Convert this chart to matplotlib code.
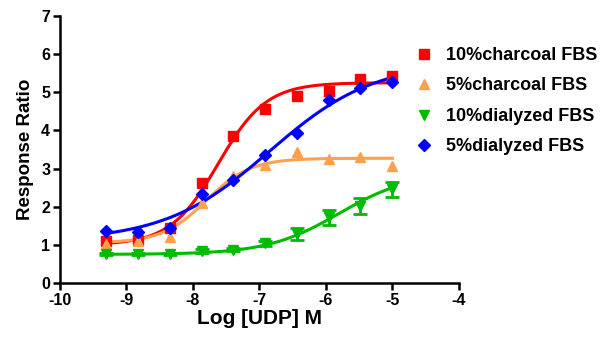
import numpy as np
import matplotlib
matplotlib.use("Agg")
import matplotlib.pyplot as plt

plt.rcParams['font.family'] = ['Liberation Sans', 'DejaVu Sans']
plt.rcParams['font.weight'] = 'bold'
plt.rcParams['axes.unicode_minus'] = False

# log concentration of UDP
log_udp = [-9.3, -8.82, -8.35, -7.87, -7.39, -6.92, -6.44, -5.96, -5.48, -5.0]

charcoal10 = [1.10, 1.14, 1.43, 2.62, 3.85, 4.56, 4.91, 5.04, 5.35, 5.43]
charcoal5 = [1.03, 1.10, 1.21, 2.10, 2.80, 3.09, 3.44, 3.24, 3.30, 3.06]
dialyzed10 = [0.77, 0.76, 0.76, 0.84, 0.87, 1.04, 1.28, 1.72, 2.02, 2.46]
dialyzed10_err = [0.03, 0.03, 0.03, 0.04, 0.04, 0.06, 0.15, 0.20, 0.21, 0.20]
dialyzed5 = [1.37, 1.33, 1.43, 2.33, 2.69, 3.35, 3.92, 4.80, 5.12, 5.26]

# sigmoid fit parameters (bottom, top, logEC50, hill)
fit_charcoal10 = (1.0, 5.25, -7.62, 1.2)
fit_charcoal5 = (1.05, 3.27, -7.8, 1.3)
fit_dialyzed10 = (0.75, 2.9, -5.8, 0.8)
fit_dialyzed5 = (1.1, 5.8, -6.85, 0.55)

labels = ['10%charcoal FBS', '5%charcoal FBS', '10%dialyzed FBS', '5%dialyzed FBS']
colors = ['#ff0000', '#ffa04d', '#00bb00', '#0000ff']
markers = ['s', '^', 'v', 'D']


def sigmoid(x, p):
    b, t, ec, h = p
    return b + (t - b) / (1 + 10 ** ((ec - x) * h))


fig = plt.figure(figsize=(6.11, 3.46), dpi=100)
ax = fig.add_axes([0.098, 0.182, 0.653, 0.772])

xs = np.linspace(-9.3, -5.0, 200)
series = [charcoal10, charcoal5, dialyzed10, dialyzed5]
fits = [fit_charcoal10, fit_charcoal5, fit_dialyzed10, fit_dialyzed5]
errs = [None, None, dialyzed10_err, None]

for ys, p, e, c, m, lab in zip(series, fits, errs, colors, markers, labels):
    ax.plot(xs, sigmoid(xs, p), color=c, lw=2.2, zorder=2)
    ms = 7 if m != 'D' else 6
    if e is not None:
        ax.errorbar(log_udp, ys, yerr=e, fmt='none', ecolor=c, elinewidth=2,
                    capsize=5, capthick=2, zorder=3)
    ax.plot(log_udp, ys, ls='none', marker=m, color=c, ms=ms, zorder=4, label=lab)

ax.set_xlim(-10, -4)
ax.set_ylim(0, 7)
ax.set_xticks(range(-10, -3))
ax.set_yticks(range(0, 8))
for s in ['top', 'right']:
    ax.spines[s].set_visible(False)
for s in ['left', 'bottom']:
    ax.spines[s].set_linewidth(1.8)
ax.tick_params(width=1.8, length=5, labelsize=11.5, pad=2)
for t in ax.get_xticklabels() + ax.get_yticklabels():
    t.set_fontweight('bold')

ax.set_xlabel('Log [UDP] M', fontsize=15, fontweight='bold', labelpad=1)
ax.set_ylabel('Response Ratio', fontsize=13.5, fontweight='bold', labelpad=5)

leg = ax.legend(loc='upper left', bbox_to_anchor=(0.85, 0.945), frameon=False,
                prop={'size': 13, 'weight': 'bold'}, handletextpad=0.7,
                labelspacing=0.75, handlelength=1.0)

fig.savefig('out.png', dpi=100)
